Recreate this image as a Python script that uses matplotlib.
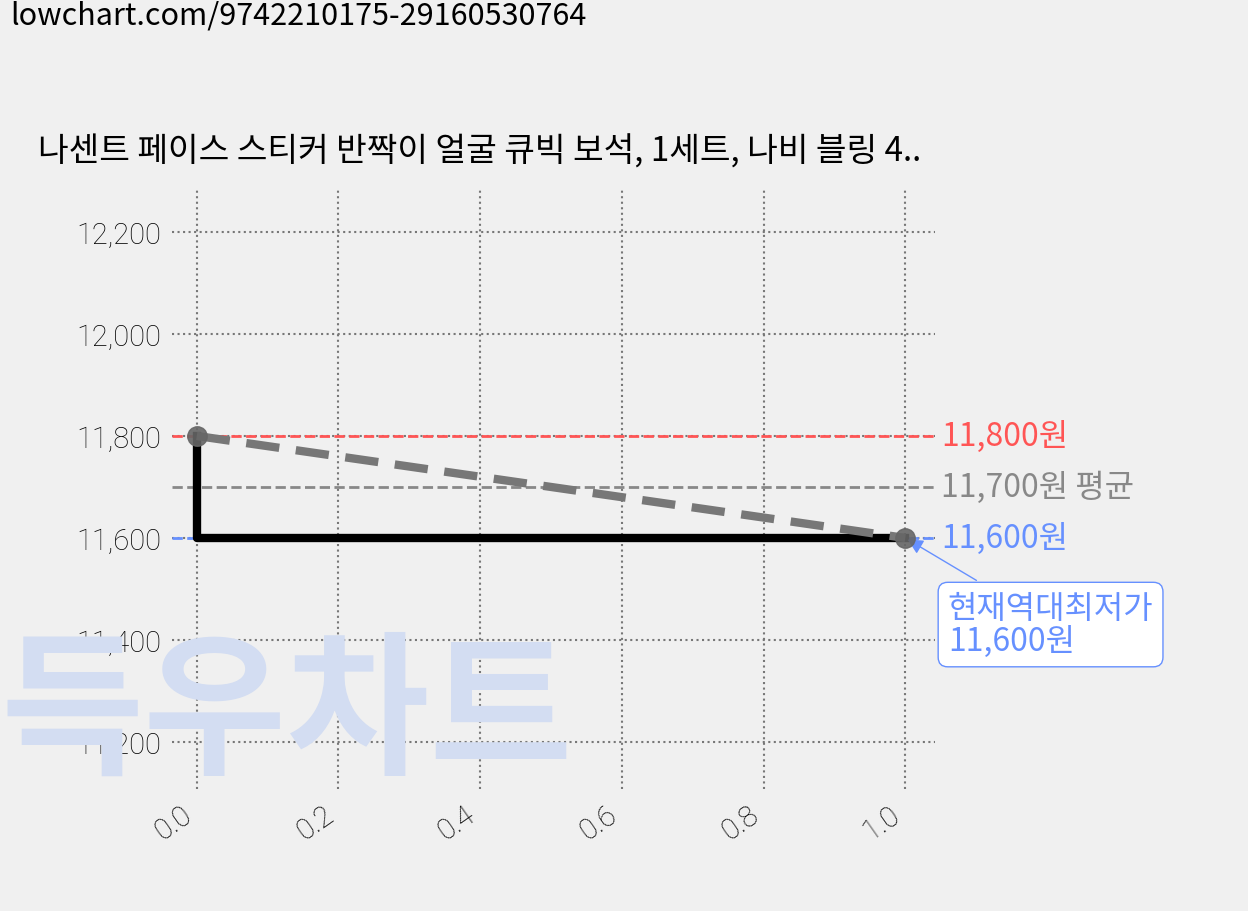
import matplotlib
matplotlib.use('Agg')
import matplotlib.pyplot as plt

plt.rcParams['font.family'] = ['Noto Sans CJK KR', 'DejaVu Sans']

xs = [0.0, 1.0]
prices = [11800, 11600]
max_price = 11800
avg_price = 11700
min_price = 11600
yticks = [11200, 11400, 11600, 11800, 12000, 12200]
xticks = [0.0, 0.2, 0.4, 0.6, 0.8, 1.0]
title = '나센트 페이스 스티커 반짝이 얼굴 큐빅 보석, 1세트, 나비 블링 4..'
url = 'lowchart.com/9742210175-29160530764'

fig = plt.figure(figsize=(12.48, 9.12), dpi=100, facecolor='#f0f0f0')

# watermark, behind the axes
fig.text(0.0, 1-762/912, '득우차트', fontsize=112, color='#d3ddf2',
         fontweight='black', zorder=0)

ax = fig.add_axes([172/1248, 1-790/912, (935-172)/1248, (790-190)/912])
ax.patch.set_alpha(0)
ax.set_xlim(-0.035, 1.042)
ax.set_ylim(11108, 12284)

ax.grid(True, linestyle=':', color='#777777', linewidth=1.5)
for s in ax.spines.values():
    s.set_visible(False)
ax.tick_params(length=0, labelsize=21, pad=8)
ax.set_yticks(yticks)
ax.set_yticklabels([f'{v:,}' for v in yticks], fontfamily=['Roboto', 'DejaVu Sans'], fontweight='light')
ax.set_xticks(xticks)
ax.set_xticklabels([f'{v:.1f}' for v in xticks], rotation=35, ha='right',
                   fontfamily=['Roboto', 'DejaVu Sans'], fontweight='light')

ax.axhline(max_price, color='#ff5555', ls='--', lw=2)
ax.axhline(avg_price, color='#888888', ls='--', lw=2)
ax.axhline(min_price, color='#6690ff', ls='--', lw=2)

ax.plot([xs[0], xs[0], xs[1]], [prices[0], prices[1], prices[1]], color='black', lw=6, zorder=3)
ax.plot(xs, prices, color='#777777', ls='--', lw=6, dashes=(4, 2), zorder=4)
ax.plot(xs, prices, 'o', color='#666666', ms=14, alpha=0.9, zorder=5)

tx = 1.042 + 6/708
ax.text(tx, max_price, f'{max_price:,}원', color='#ff5555', fontsize=23, va='center', clip_on=False)
ax.text(tx, avg_price, f'{avg_price:,}원 평균', color='#888888', fontsize=23, va='center', clip_on=False)
ax.text(tx, min_price, f'{min_price:,}원', color='#6690ff', fontsize=23, va='center', clip_on=False)

ax.annotate(f'현재역대최저가\n{min_price:,}원', xy=(1.0, min_price), xytext=(1.06, 11380),
            color='#6690ff', fontsize=23, annotation_clip=False, linespacing=1.05,
            bbox=dict(boxstyle='round,pad=0.3', fc='white', ec='#6690ff'),
            arrowprops=dict(arrowstyle='-|>', color='#6690ff', lw=1))

fig.text(38/1248, 1-152/912, title, fontsize=24, va='center')
fig.text(10/1248, 1-16/912, url, fontsize=22, va='center')

fig.savefig('out.png', dpi=100, facecolor=fig.get_facecolor())
